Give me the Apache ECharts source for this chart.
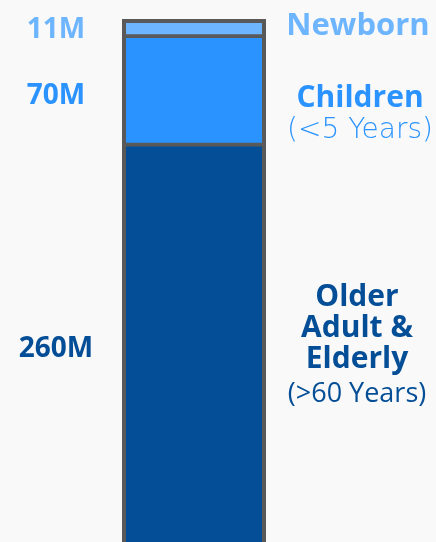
<!DOCTYPE html>
<html><head><meta charset="utf-8">
<script src="https://cdn.jsdelivr.net/npm/echarts@6/dist/echarts.min.js"></script>
<style>html,body{margin:0;padding:0;background:#f9f9f9;overflow:hidden;}#c{width:436px;height:560px;}</style>
</head><body><div id="c"></div>
<script>
// ---- data ----
const categories = ['Population'];
const segmentNames = ['Older Adult & Elderly', 'Children', 'Newborn'];
const segmentValues = [260, 70, 11];          // millions, bottom -> top
const valueLabels = ['260M', '70M', '11M'];
const nameLines = [['Older', 'Adult &', 'Elderly'], ['Children'], ['Newborn']];
const subLabels = ['(>60 Years)', '(<5 Years)', ''];

// ---- styles ----
const colors = ['#034E96', '#2A93FF', '#6DB5FF'];
const outline = '#595959';
const total = segmentValues.reduce((a, b) => a + b, 0);

const chart = echarts.init(document.getElementById('c'), null, {renderer: 'canvas'});
const series = segmentValues.map((v, i) => ({
  name: segmentNames[i],
  type: 'bar',
  stack: 'total',
  barWidth: '100%',
  barGap: '-100%',
  z: 3,
  showBackground: i === 0,
  backgroundStyle: {color: outline},
  data: [v],
  itemStyle: {color: colors[i], borderColor: outline, borderWidth: 1.9}
}));
// outer frame of the whole column
series.push({
  name: 'Total',
  type: 'bar',
  barWidth: '100%',
  barGap: '-100%',
  z: 5,
  data: [total],
  itemStyle: {color: 'rgba(0,0,0,0)', borderColor: outline, borderWidth: 4}
});
chart.setOption({
  backgroundColor: '#f9f9f9',
  animation: false,
  grid: {left: 122, right: 436 - 266, top: 19, bottom: 560 - 547.6},
  xAxis: {type: 'category', data: categories, show: false},
  yAxis: {type: 'value', min: 0, max: total, show: false},
  series: series
});

function midOf(i) {
  let c = 0; for (let k = 0; k < i; k++) c += segmentValues[k];
  return chart.convertToPixel({yAxisIndex: 0}, c + segmentValues[i] / 2);
}
const g = [];
const valOffsets = [3, 6, 3];
segmentValues.forEach((v, i) => {
  g.push({type: 'text', style: {text: valueLabels[i], x: 56, y: midOf(i) + valOffsets[i],
    fill: colors[i], font: 'bold 28px "Open Sans"', textAlign: 'center', textVerticalAlign: 'middle'}});
});
// Newborn
g.push({type: 'text', style: {text: nameLines[2][0], x: 358, y: midOf(2) - 1,
  fill: colors[2], font: 'bold 31px "Open Sans"', textAlign: 'center', textVerticalAlign: 'middle'}});
// Children
g.push({type: 'text', style: {text: nameLines[1][0], x: 360, y: midOf(1) + 8,
  fill: colors[1], font: 'bold 30px "Open Sans"', textAlign: 'center', textVerticalAlign: 'middle'}});
g.push({type: 'text', style: {text: subLabels[1], x: 360, y: midOf(1) + 40,
  fill: colors[1], font: '200 28px "DejaVu Sans"', textAlign: 'center', textVerticalAlign: 'middle'}});
// Older
const om = midOf(0);
nameLines[0].forEach((t, k) => {
  g.push({type: 'text', style: {text: t, x: 357, y: om - 49 + k * 31,
    fill: colors[0], font: 'bold 30px "Open Sans"', textAlign: 'center', textVerticalAlign: 'middle'}});
});
g.push({type: 'text', style: {text: subLabels[0], x: 357, y: om + 48,
  fill: colors[0], font: '27px "Open Sans"', textAlign: 'center', textVerticalAlign: 'middle'}});
chart.setOption({graphic: {elements: g}});
</script></body></html>
